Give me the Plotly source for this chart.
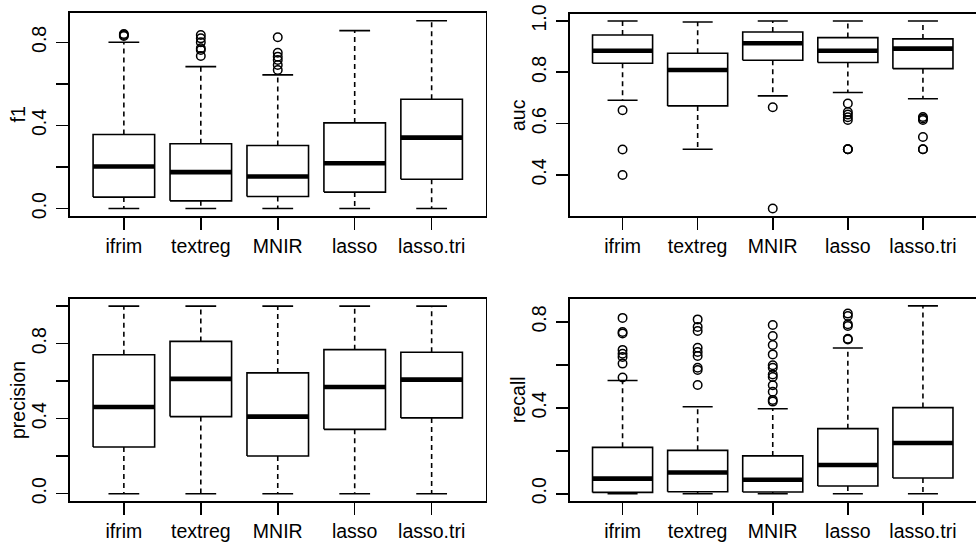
import plotly.graph_objects as go

methods = ["ifrim", "textreg", "MNIR", "lasso", "lasso.tri"]

# ---- f1 ----
f1_lower = [0.0, 0.0, 0.0, 0.0, 0.0]
f1_q1 = [0.055, 0.037, 0.058, 0.079, 0.141]
f1_med = [0.202, 0.175, 0.154, 0.218, 0.341]
f1_q3 = [0.356, 0.312, 0.303, 0.412, 0.526]
f1_upper = [0.800, 0.683, 0.643, 0.856, 0.904]
f1_out = [
    [0.830, 0.835, 0.840],
    [0.734, 0.763, 0.771, 0.800, 0.819, 0.835],
    [0.667, 0.691, 0.715, 0.731, 0.750, 0.824],
    [],
    [],
]

# ---- auc ----
auc_lower = [0.691, 0.500, 0.708, 0.721, 0.697]
auc_q1 = [0.835, 0.669, 0.847, 0.838, 0.814]
auc_med = [0.884, 0.809, 0.913, 0.884, 0.892]
auc_q3 = [0.945, 0.874, 0.957, 0.935, 0.930]
auc_upper = [1.0, 0.996, 1.0, 1.0, 1.0]
auc_out = [
    [0.652, 0.499, 0.400],
    [],
    [0.664, 0.269],
    [0.678, 0.645, 0.635, 0.625, 0.614, 0.500, 0.500, 0.500],
    [0.626, 0.620, 0.614, 0.548, 0.500, 0.500],
]

# ---- precision ----
pre_lower = [0.0, 0.0, 0.0, 0.0, 0.0]
pre_q1 = [0.249, 0.411, 0.201, 0.343, 0.404]
pre_med = [0.462, 0.612, 0.411, 0.569, 0.608]
pre_q3 = [0.741, 0.812, 0.644, 0.768, 0.754]
pre_upper = [1.0, 1.0, 1.0, 1.0, 1.0]
pre_out = [[], [], [], [], []]

# ---- recall ----
rec_lower = [0.0, 0.0, 0.0, 0.0, 0.0]
rec_q1 = [0.006, 0.009, 0.008, 0.036, 0.073]
rec_med = [0.070, 0.099, 0.065, 0.134, 0.236]
rec_q3 = [0.216, 0.202, 0.176, 0.303, 0.401]
rec_upper = [0.527, 0.405, 0.396, 0.679, 0.875]
rec_out = [
    [0.541, 0.606, 0.637, 0.652, 0.670, 0.746, 0.753, 0.819],
    [0.506, 0.576, 0.587, 0.642, 0.660, 0.680, 0.758, 0.777, 0.812],
    [0.429, 0.437, 0.475, 0.505, 0.544, 0.555, 0.587, 0.598, 0.649, 0.693, 0.735, 0.786],
    [0.718, 0.722, 0.781, 0.789, 0.828, 0.839],
    [],
]

panels = [
    dict(name="f1", lower=f1_lower, q1=f1_q1, med=f1_med, q3=f1_q3, upper=f1_upper, out=f1_out,
         yrange=[-0.036, 0.941], ticks=[0, 0.2, 0.4, 0.6, 0.8], labels=["0.0", "", "0.4", "", "0.8"]),
    dict(name="auc", lower=auc_lower, q1=auc_q1, med=auc_med, q3=auc_q3, upper=auc_upper, out=auc_out,
         yrange=[0.240, 1.027], ticks=[0.4, 0.6, 0.8, 1.0], labels=["0.4", "0.6", "0.8", "1.0"]),
    dict(name="precision", lower=pre_lower, q1=pre_q1, med=pre_med, q3=pre_q3, upper=pre_upper, out=pre_out,
         yrange=[-0.039, 1.038], ticks=[0, 0.2, 0.4, 0.6, 0.8, 1.0], labels=["0.0", "", "0.4", "", "0.8", ""]),
    dict(name="recall", lower=rec_lower, q1=rec_q1, med=rec_med, q3=rec_q3, upper=rec_upper, out=rec_out,
         yrange=[-0.034, 0.907], ticks=[0, 0.2, 0.4, 0.6, 0.8], labels=["0.0", "", "0.4", "", "0.8"]),
]

W, H = 976, 542
# plot regions in pixels (left, right, top, bottom)
regions = [(70, 485.5, 13, 216), (570, 975.5, 14, 216), (70, 485.5, 299, 501), (570, 975.5, 299, 501)]

FONT = "Liberation Sans, Arial, Helvetica, sans-serif"
FS = 19.5
BW = 0.4  # half box width
SW = 0.2  # half staple width
LW = 1.6

fig = go.Figure()
layout = dict(width=W, height=H, margin=dict(l=0, r=0, t=0, b=0, autoexpand=False),
              paper_bgcolor="white", plot_bgcolor="white", showlegend=False,
              font=dict(family=FONT, size=FS, color="black"))
annotations = []

for i, p in enumerate(panels):
    k = "" if i == 0 else str(i + 1)
    xa, ya = "x" + k, "y" + k
    n = len(methods)
    pos = list(range(1, n + 1))
    bx, by = [], []
    mx, my = [], []
    wx, wy = [], []
    sx, sy = [], []
    ox, oy = [], []
    for j in range(n):
        c = pos[j]
        bx += [c - BW, c + BW, c + BW, c - BW, c - BW, None]
        by += [p["q1"][j], p["q1"][j], p["q3"][j], p["q3"][j], p["q1"][j], None]
        mx += [c - BW, c + BW, None]
        my += [p["med"][j], p["med"][j], None]
        wx += [c, c, None, c, c, None]
        wy += [p["q3"][j], p["upper"][j], None, p["q1"][j], p["lower"][j], None]
        sx += [c - SW, c + SW, None, c - SW, c + SW, None]
        sy += [p["upper"][j], p["upper"][j], None, p["lower"][j], p["lower"][j], None]
        for v in p["out"][j]:
            ox.append(c)
            oy.append(v)
    fig.add_trace(go.Scatter(x=wx, y=wy, mode="lines", xaxis=xa, yaxis=ya,
                             line=dict(color="black", width=LW, dash="5px,4px"), hoverinfo="skip"))
    fig.add_trace(go.Scatter(x=sx, y=sy, mode="lines", xaxis=xa, yaxis=ya,
                             line=dict(color="black", width=LW), hoverinfo="skip"))
    fig.add_trace(go.Scatter(x=bx, y=by, mode="lines", xaxis=xa, yaxis=ya, fill="toself",
                             fillcolor="white", line=dict(color="black", width=LW), hoverinfo="skip"))
    fig.add_trace(go.Scatter(x=mx, y=my, mode="lines", xaxis=xa, yaxis=ya,
                             line=dict(color="black", width=4.6), hoverinfo="skip"))
    fig.add_trace(go.Scatter(x=ox, y=oy, mode="markers", xaxis=xa, yaxis=ya,
                             marker=dict(symbol="circle-open", size=8.5, color="black",
                                         line=dict(width=1.5, color="black"))))

    l, r, t, b = regions[i]
    layout["xaxis" + k] = dict(
        domain=[l / W, r / W], range=[0.3, n + 0.7], anchor=ya, automargin=False,
        tickmode="array", tickvals=pos, ticktext=methods,
        ticks="outside", ticklen=12, tickwidth=LW, tickcolor="black",
        showline=True, mirror=True, linecolor="black", linewidth=LW,
        showgrid=False, zeroline=False, ticklabelstandoff=0,
        tickfont=dict(family=FONT, size=FS, color="black"))
    layout["yaxis" + k] = dict(
        domain=[1 - b / H, 1 - t / H], range=p["yrange"], anchor=xa, automargin=False,
        tickmode="array", tickvals=p["ticks"], ticktext=p["labels"], tickangle=-90,
        ticks="outside", ticklen=12, tickwidth=LW, tickcolor="black",
        showline=True, mirror=True, linecolor="black", linewidth=LW,
        showgrid=False, zeroline=False, ticklabelstandoff=3,
        tickfont=dict(family=FONT, size=FS, color="black"))
    annotations.append(dict(
        text=p["name"], textangle=-90, xref="paper", yref="paper",
        x=(l - 52) / W, y=1 - (t + b) / 2 / H, showarrow=False,
        xanchor="center", yanchor="middle",
        font=dict(family=FONT, size=FS, color="black")))

layout["annotations"] = annotations
fig.update_layout(**layout)
fig.write_html("out.html", config={"displayModeBar": False, "staticPlot": True},
               post_script="document.body.style.margin='0';document.body.style.overflow='hidden';")
